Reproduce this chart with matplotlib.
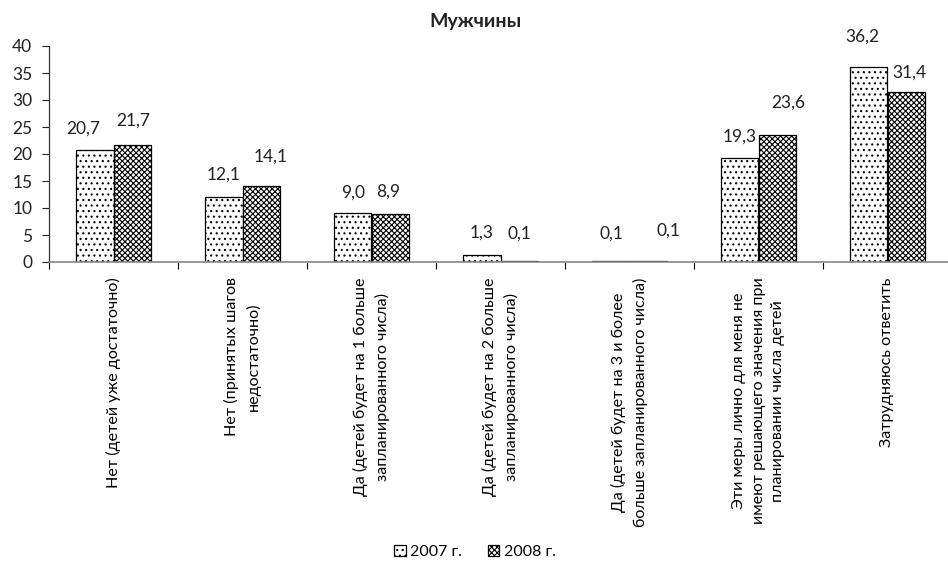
import numpy as np
import matplotlib
matplotlib.use("Agg")
import matplotlib.pyplot as plt

plt.rcParams['font.family'] = ['Lato', 'DejaVu Sans']
plt.rcParams['hatch.linewidth'] = 0.8

# Данные
kategorii = [
    "Нет (детей уже достаточно)",
    "Нет (принятых шагов\nнедостаточно)",
    "Да (детей будет на 1 больше\nзапланированного числа)",
    "Да (детей будет на 2 больше\nзапланированного числа)",
    "Да (детей будет на 3 и более\nбольше запланированного числа)",
    "Эти меры лично для меня не\nимеют решающего значения при\nпланировании числа детей",
    "Затрудняюсь ответить",
]
god_2007 = [20.7, 12.1, 9.0, 1.3, 0.1, 19.3, 36.2]
god_2008 = [21.7, 14.1, 8.9, 0.1, 0.1, 23.6, 31.4]
serii = ["2007 г.", "2008 г."]

# Сдвиги подписей (пиксели): dx, dy
sdvig_2007 = [(-12, 22), (0, 22), (0, 21), (0, 22), (0, 28), (0, 21), (-7, 30)]
sdvig_2008 = [(1, 24), (10, 29), (-2, 22), (0, 28), (20, 31), (11, 32), (3, 20)]

W, H = 948, 574
fig = plt.figure(figsize=(W / 100, H / 100), dpi=100)
ax = fig.add_axes([49 / W, (H - 262) / H, 903 / W, 216 / H])

x = np.arange(len(kategorii))
shirina = 0.287

b1 = ax.bar(x - shirina / 2, god_2007, shirina, color='white', edgecolor='black',
            linewidth=0.9, hatch='...', label=serii[0])
b2 = ax.bar(x + shirina / 2, god_2008, shirina, color='white', edgecolor='black',
            linewidth=0.9, hatch='xxxxxx', label=serii[1])


def podpis(bars, vals, sdvigi):
    for b, v, (dx, dy) in zip(bars, vals, sdvigi):
        ax.annotate(f"{v:.1f}".replace('.', ','),
                    (b.get_x() + b.get_width() / 2, b.get_height()),
                    xytext=(dx, dy), textcoords='offset pixels',
                    ha='center', va='center', fontsize=12.5, color='#222222')


podpis(b1, god_2007, sdvig_2007)
podpis(b2, god_2008, sdvig_2008)

ax.set_xlim(-0.5, len(kategorii) - 0.5)
ax.set_ylim(0, 40)
ax.set_yticks(np.arange(0, 41, 5))
ax.tick_params(axis='y', labelsize=12.5, length=5, width=0.8, pad=7, colors='#222222')

ax.set_xticks(np.arange(len(kategorii) + 1) - 0.5)
ax.set_xticklabels([])
ax.set_xticks(x, minor=True)
ax.set_xticklabels(kategorii, minor=True, rotation=90, ha='center', va='top',
                   multialignment='center', fontsize=11.6, linespacing=1.5)
ax.tick_params(axis='x', which='major', length=5, width=0.8, direction='out')
ax.tick_params(axis='x', which='minor', length=0, pad=11)

for s in ['top', 'right']:
    ax.spines[s].set_visible(False)
ax.spines['left'].set_color('#333333')
ax.spines['bottom'].set_color('#888888')
ax.spines['left'].set_linewidth(0.9)
ax.spines['bottom'].set_linewidth(1.2)

fig.text(475 / W, 1 - 22 / H, "Мужчины", ha='center', va='center',
         fontsize=14, fontweight='bold', color='#222222')

fig.legend(handles=[b1, b2], labels=serii, loc='center', bbox_to_anchor=(475 / W, 1 - 552 / H),
           ncol=2, frameon=False, fontsize=11.5, handlelength=0.7, handleheight=0.7,
           handletextpad=0.3, columnspacing=1.6)

fig.savefig("out.png", dpi=100)
